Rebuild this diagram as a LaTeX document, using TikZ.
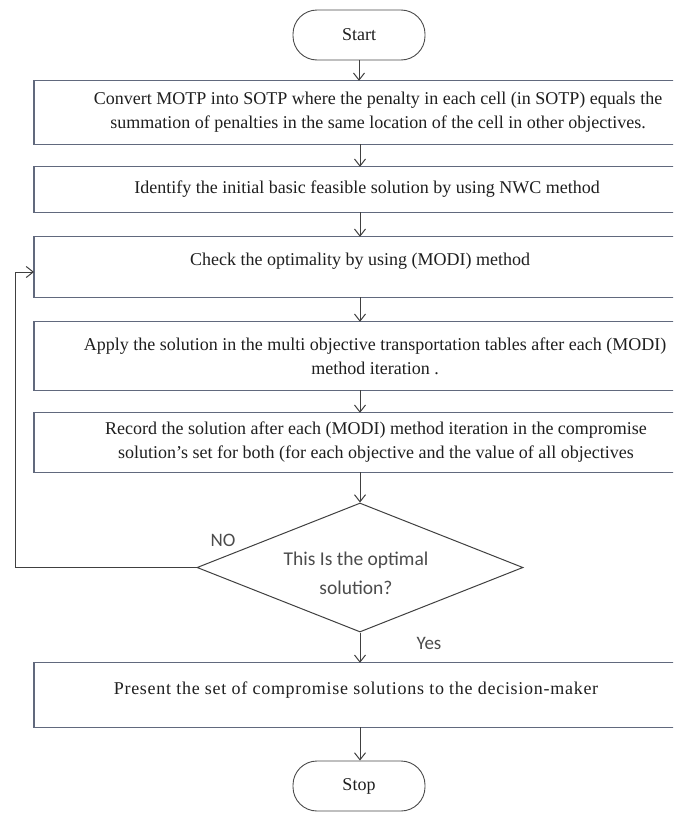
\documentclass[tikz,border=0pt]{standalone}
\usepackage{fontspec}
\setmainfont{Liberation Serif}
\newfontfamily\labfont{Carlito}
\usetikzlibrary{arrows.meta,shapes.geometric}
\definecolor{boxline}{rgb}{0.38,0.41,0.49}
\definecolor{arrowline}{gray}{0.25}
\definecolor{termline}{gray}{0.3}
\definecolor{txt}{gray}{0.12}
\definecolor{labtxt}{gray}{0.3}
\newcommand\openbox[1]{\draw[boxborder] (#1.north -| rightedge) -- (#1.north -| leftedge) -- (#1.south -| leftedge) -- (#1.south -| rightedge);}
\begin{document}
\begin{tikzpicture}[x=1pt,y=-1pt,
  procbox/.style={align=center,
    text=txt, font=\fontsize{18}{24}\selectfont, inner sep=0pt},
  boxborder/.style={draw=boxline, line width=1.2pt},
  term/.style={draw=termline, line width=0.9pt, rounded corners=24pt, minimum width=132pt,
    minimum height=50pt, text=txt, font=\fontsize{18}{22}\selectfont},
  decision/.style={draw=arrowline, line width=1pt, diamond, inner sep=0pt, minimum width=326pt,
    minimum height=129pt},
  dectxt/.style={align=center, text=labtxt, inner sep=0pt, font=\labfont\fontsize{19.5}{29}\selectfont},
  flow/.style={draw=arrowline, line width=1pt, -{Straight Barb[length=7pt,width=11pt]}},
  lab/.style={text=labtxt, font=\labfont\fontsize{19}{22}\selectfont, inner sep=0pt}
]
\useasboundingbox (0,0) rectangle (673,814);
\clip (0,0) rectangle (673,814);
\fill[white] (0,0) rectangle (673,814);
\coordinate (leftedge) at (34,0);
\coordinate (rightedge) at (674,0);

\node[term] (start) at (359,35) {Start};
\node[procbox, minimum height=63pt] (b1) at (378,112.5)
  {Convert MOTP into SOTP where the penalty in each cell (in SOTP) equals the\\
   summation of penalties in the same location of the cell in other objectives.};
\node[procbox, minimum height=45pt, text depth=5pt] (b2) at (367,189.5)
  {Identify the initial basic feasible solution by using NWC method};
\node[procbox, minimum height=60pt, text depth=16pt] (b3) at (360,267)
  {Check the optimality by using (MODI) method};
\node[procbox, minimum height=68pt] (b4) at (375,356)
  {Apply the solution in the multi objective transportation tables after each (MODI)\\
   method iteration .};
\node[procbox, minimum height=59pt] (b5) at (376,442.5)
  {Record the solution after each (MODI) method iteration in the compromise\\
   solution's set for both (for each objective and the value of all objectives};
\node[decision] (dec) at (360,567.5) {};
\node[dectxt] (dect) at (356,573) {This Is the optimal\\solution?};
\node[procbox, minimum height=64pt, text depth=14pt, font=\fontsize{18}{24}\selectfont\addfontfeature{LetterSpace=4}] (b6) at (356,695)
  {Present the set of compromise solutions to the decision-maker};
\node[term] (stop) at (359,786) {Stop};

\foreach \b in {b1,b2,b3,b4,b5,b6} {\openbox{\b}}

\node[lab] (no) at (223,540) {NO};
\node[lab] (yes) at (429,643) {Yes};

\draw[flow] (start.south) -- (start.south |- b1.north);
\draw[flow] (b1.south -| dec.north) -- (b2.north -| dec.north);
\draw[flow] (b2.south -| dec.north) -- (b3.north -| dec.north);
\draw[flow] (b3.south -| dec.north) -- (b4.north -| dec.north);
\draw[flow] (b4.south -| dec.north) -- (b5.north -| dec.north);
\draw[flow] (b5.south -| dec.north) -- (dec.north);
\draw[flow] (dec.south) -- (b6.north -| dec.south);
\draw[flow] (b6.south -| dec.south) -- (stop.north -| dec.south);

\coordinate (lp) at (15,272);
\draw[flow] (dec.west) -| (lp) -- (lp -| leftedge);
\end{tikzpicture}
\end{document}
